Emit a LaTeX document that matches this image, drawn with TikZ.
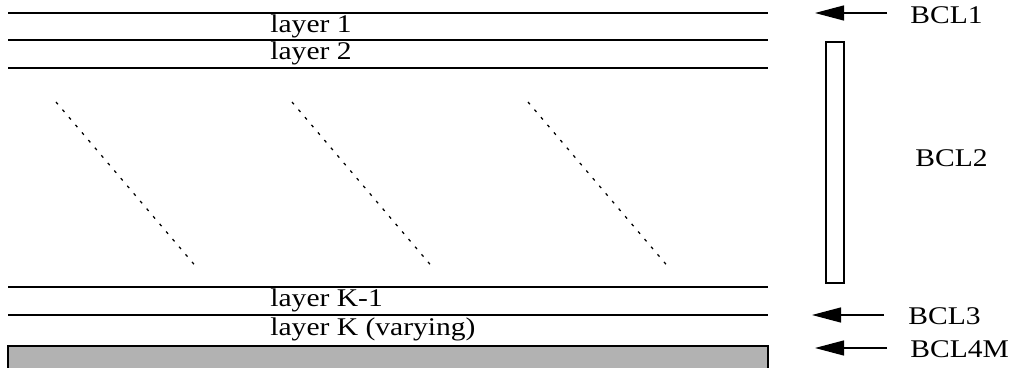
\documentclass[tikz,border=0pt]{standalone}
\usepackage{fontspec}
\setmainfont{Liberation Serif}
\usetikzlibrary{arrows.meta}
\begin{document}
\begin{tikzpicture}[x=0.02cm,y=-0.02cm,
  layerline/.style={line width=0.03cm},
  lbl/.style={font=\fontsize{14.5}{16}\selectfont, inner sep=0pt, xscale=1.16},
  dots/.style={dash pattern=on 0.06cm off 0.14cm, line width=0.025cm},
  bclarrow/.style={line width=0.025cm, -{Triangle[length=0.58cm,width=0.3cm]}}]
\useasboundingbox (0,0) rectangle (1018,368);
% layer lines
\draw[layerline] (8,13) -- (768,13);
\draw[layerline] (8,40) -- (768,40);
\draw[layerline] (8,68) -- (768,68);
\draw[layerline] (8,287) -- (768,287);
\draw[layerline] (8,315) -- (768,315);
\draw[layerline, fill=black!30] (8,346) rectangle (768,372);
% layer labels
\node[lbl, anchor=west] (l1) at (270,26) {layer 1};
\node[lbl, anchor=west] (l2) at (270,53) {layer 2};
\node[lbl, anchor=west] (lk1) at (270,300) {layer K-1};
\node[lbl, anchor=west] (lk) at (270,329) {layer K (varying)};
% dotted diagonals
\draw[dots] (56,102) -- (198,269);
\draw[dots] (292,102) -- (434,269);
\draw[dots] (528,102) -- (670,269);
% tall box
\draw[line width=0.025cm] (826,42) rectangle (844,283);
% BCL labels and arrows
\node[lbl, anchor=west] (b1) at (910,15) {BCL1};
\node[lbl, anchor=west] (b2) at (915,158) {BCL2};
\node[lbl, anchor=west] (b3) at (908,316) {BCL3};
\node[lbl, anchor=west] (b4) at (910,349) {BCL4M};
\coordinate (t1) at (887,13); \coordinate (h1) at (815,13);
\coordinate (t3) at (884,315); \coordinate (h3) at (812,315);
\coordinate (t4) at (887,348); \coordinate (h4) at (815,348);
\draw[bclarrow] (t1) -- (h1);
\draw[bclarrow] (t3) -- (h3);
\draw[bclarrow] (t4) -- (h4);
\end{tikzpicture}
\end{document}
